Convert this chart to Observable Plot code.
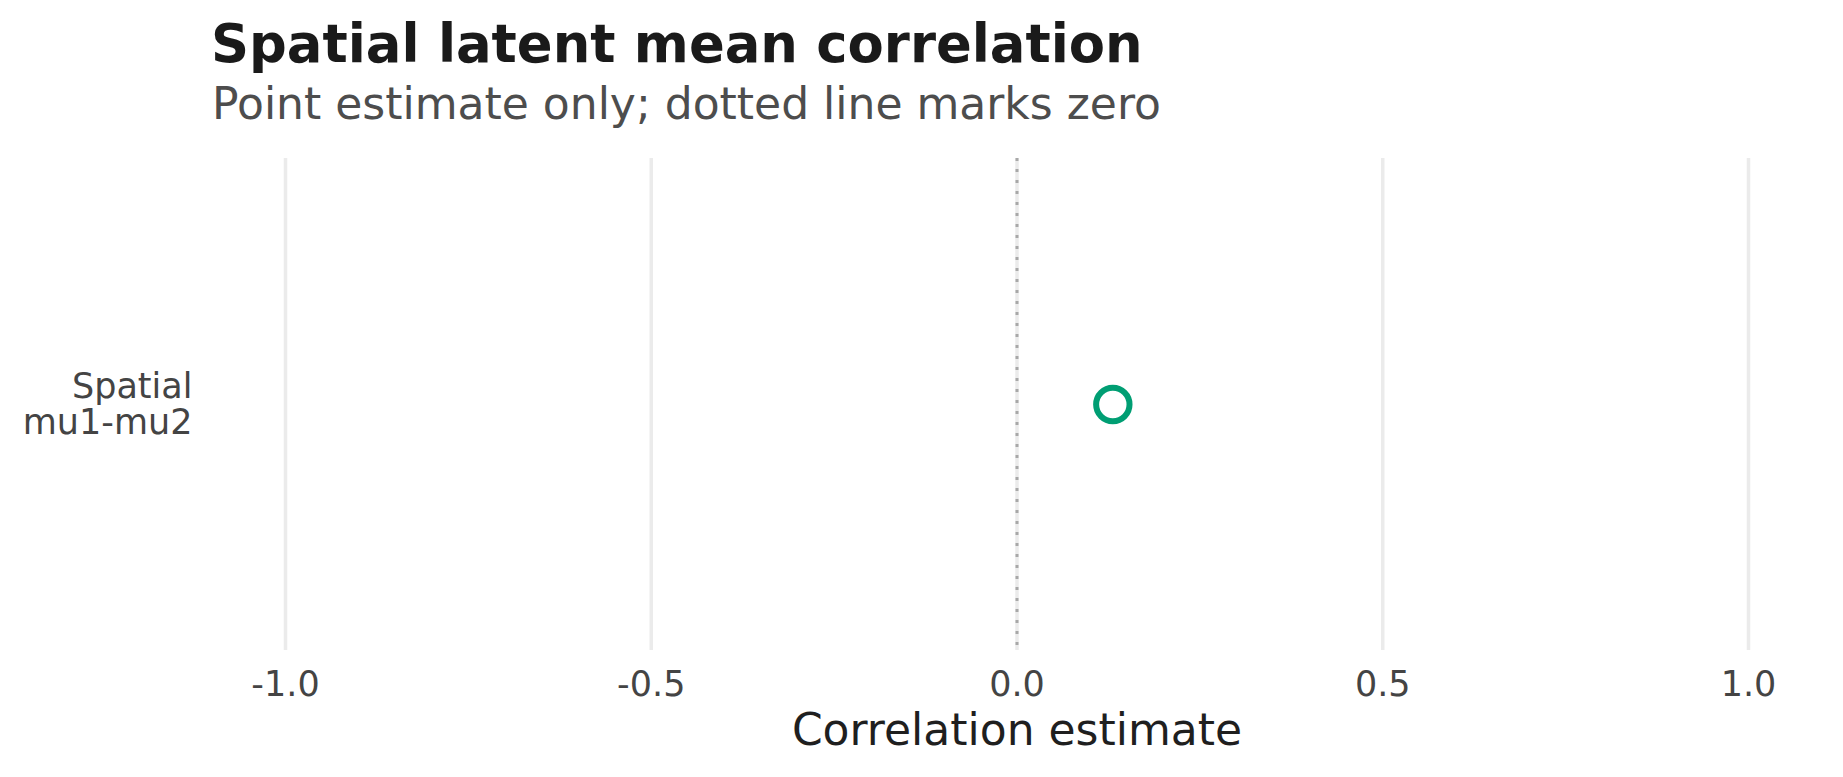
<!DOCTYPE html>
<html>
<head>
<meta charset="utf-8">
<script src="https://cdn.jsdelivr.net/npm/d3@7"></script>
<script src="https://cdn.jsdelivr.net/npm/@observablehq/plot@0.6"></script>
<style>
  html, body { margin: 0; padding: 0; background: #fff; }
  #wrap { position: relative; width: 1843px; height: 777px; font-family: "DejaVu Sans", sans-serif; }
  #head { position: relative; height: 140px; }
  #title { position: absolute; left: 211px; top: 17px; font-size: 52.8px; line-height: 53px; font-weight: bold; color: #1a1a1a; white-space: nowrap; }
  #subtitle { position: absolute; left: 212px; top: 82px; font-size: 44px; line-height: 44px; color: #4d4d4d; white-space: nowrap; }
  #chart svg { display: block; }
</style>
</head>
<body>
<div id="wrap">
  <div id="head">
    <div id="title"></div>
    <div id="subtitle"></div>
  </div>
  <div id="chart"></div>
</div>
<script>
const titleText = "Spatial latent mean correlation";
const subtitleText = "Point estimate only; dotted line marks zero";
const xAxisTitle = "Correlation estimate";
const categories = ["Spatial\nmu1-mu2"];
const estimates = [0.131];
const xTicks = [-1.0, -0.5, 0.0, 0.5, 1.0];
const zeroLine = [0];

document.getElementById("title").textContent = titleText;
document.getElementById("subtitle").textContent = subtitleText;

const data = categories.map((c, i) => ({label: c, estimate: estimates[i]}));

const W = 1843, H = 637;
const chart = Plot.plot({
  width: W,
  height: H,
  marginTop: 18,
  marginBottom: 127,
  marginLeft: 285,
  marginRight: 95,
  style: {fontFamily: "DejaVu Sans, sans-serif", background: "white", overflow: "visible"},
  x: {domain: [-1, 1]},
  y: {type: "band", domain: categories},
  marks: [
    Plot.gridX(xTicks, {stroke: "#ebebeb", strokeOpacity: 1, strokeWidth: 3.5}),
    Plot.ruleX(zeroLine, {stroke: "#a8a8a8", strokeWidth: 3, strokeDasharray: "3,8"}),
    Plot.axisX(xTicks, {tickSize: 0, tickPadding: 21, fontSize: 35, fill: "#444", label: null, tickFormat: d => d3.format(".1f")(d).replace("−", "-")}),
    Plot.axisY({tickSize: 0, tickPadding: 93, fontSize: 35, fill: "#444", label: null, lineHeight: 1.02}),
    Plot.text([xAxisTitle], {text: d => d, frameAnchor: "bottom", lineAnchor: "middle", dy: 80.5, fontSize: 44, fill: "#1f1f1f"}),
    Plot.dot(data, {x: "estimate", y: "label", r: 16.7, stroke: "#009E73", strokeWidth: 6, fill: "white"})
  ]
});
document.getElementById("chart").appendChild(chart);
</script>
</body>
</html>
